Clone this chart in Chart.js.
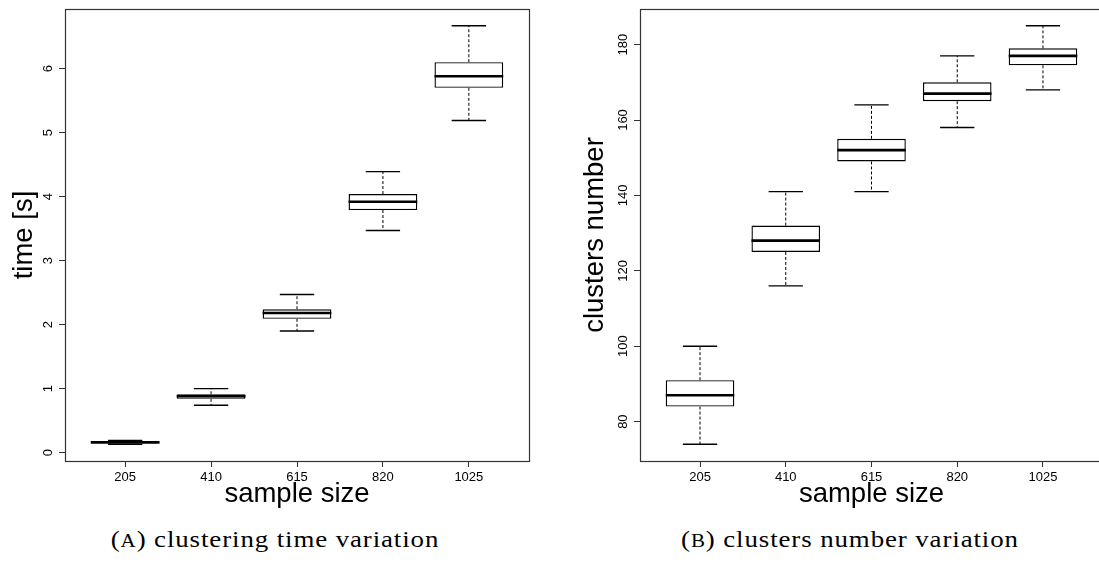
<!DOCTYPE html>
<html>
<head>
<meta charset="utf-8">
<script src="https://cdn.jsdelivr.net/npm/chart.js@4.4.0/dist/chart.umd.min.js"></script>
<style>
  html, body { margin: 0; padding: 0; background: #fff; overflow: hidden; }
  #wrap { position: relative; width: 1099px; height: 563px; overflow: hidden; }
  #chartA { position: absolute; left: 0; top: 0; }
  #chartB { position: absolute; left: 549px; top: 0; }
  .caption {
    position: absolute; top: 527px; line-height: 24px;
    font-family: "Liberation Serif", serif; font-size: 24px; letter-spacing: 0.8px;
    white-space: nowrap; transform: translateX(-50%) scaleX(1.12); color: #000;
  }
  .sc { font-size: 0.78em; }
</style>
</head>
<body>
<div id="wrap">
  <canvas id="chartA" width="549" height="520"></canvas>
  <canvas id="chartB" width="560" height="520"></canvas>
  <div class="caption" style="left:275px">(<span class="sc">A</span>) clustering time variation</div>
  <div class="caption" style="left:850px">(<span class="sc">B</span>) clusters number variation</div>
</div>
<script>
const sampleSizes = ["205", "410", "615", "820", "1025"];

// (A) clustering time [s]
const timeLower = [0.13, 0.74, 1.9, 3.47, 5.19];
const timeQ1 = [0.15, 0.84, 2.09, 3.79, 5.7];
const timeMedian = [0.16, 0.88, 2.18, 3.92, 5.88];
const timeQ3 = [0.17, 0.91, 2.24, 4.04, 6.1];
const timeUpper = [0.19, 1.0, 2.47, 4.39, 6.67];
const timeTicks = [0, 1, 2, 3, 4, 5, 6];

// (B) clusters number
const clustLower = [74, 116, 141, 158, 168];
const clustQ1 = [84, 125, 149, 165, 174.5];
const clustMedian = [87, 128, 152, 167, 177];
const clustQ3 = [91, 132, 155, 170, 179];
const clustUpper = [100, 141, 164, 177, 185];
const clustTicks = [80, 100, 120, 140, 160, 180];

const sansFont = "'Liberation Sans', Arial, sans-serif";

function makeBoxChart(canvasId, lower, q1, median, q3, upper, yTicks, yTitle, opts) {
  // R-style axis range: data range plus 4% on each side
  const lo = Math.min(...lower);
  const hi = Math.max(...upper);
  const ext = (hi - lo) * 0.04;

  const whiskers = {
    id: "whiskers",
    afterDatasetsDraw(chart) {
      const c = chart.ctx;
      const yScale = chart.scales.y;
      const bars = chart.getDatasetMeta(0).data;
      c.save();
      c.strokeStyle = "#000";
      bars.forEach((bar, i) => {
        const half = bar.width / 2;
        const cap = bar.width / 4;
        const yLow = yScale.getPixelForValue(lower[i]);
        const yQ1 = yScale.getPixelForValue(q1[i]);
        const yMed = yScale.getPixelForValue(median[i]);
        const yQ3 = yScale.getPixelForValue(q3[i]);
        const yUp = yScale.getPixelForValue(upper[i]);

        c.lineWidth = 1;
        c.setLineDash([3, 2]);
        c.beginPath();
        c.moveTo(bar.x, yQ3);
        c.lineTo(bar.x, yUp);
        c.moveTo(bar.x, yQ1);
        c.lineTo(bar.x, yLow);
        c.stroke();

        c.setLineDash([]);
        c.lineWidth = 1.4;
        c.beginPath();
        c.moveTo(bar.x - cap, yUp);
        c.lineTo(bar.x + cap, yUp);
        c.moveTo(bar.x - cap, yLow);
        c.lineTo(bar.x + cap, yLow);
        c.stroke();

        c.lineWidth = 2.6;
        c.beginPath();
        c.moveTo(bar.x - half, yMed);
        c.lineTo(bar.x + half, yMed);
        c.stroke();
      });
      // box around the plot region
      const a = chart.chartArea;
      c.lineWidth = 1.2;
      c.strokeStyle = "#333";
      c.strokeRect(a.left + 0.5, a.top + 0.5, a.right - a.left, a.bottom - a.top);
      c.restore();
    },
  };

  const ctx = document.getElementById(canvasId).getContext("2d");
  return new Chart(ctx, {
    type: "bar",
    data: {
      datasets: [
        {
          data: sampleSizes.map((s, i) => ({ x: i + 1, y: [q1[i], q3[i]] })),
          backgroundColor: "#fff",
          borderColor: "#000",
          borderWidth: 1.4,
          borderSkipped: false,
          barPercentage: 0.8,
          categoryPercentage: 1.0,
        },
      ],
    },
    options: {
      responsive: false,
      animation: false,
      devicePixelRatio: 1,
      layout: { padding: { top: 9, left: 0, right: opts.rightPad, bottom: 0 } },
      plugins: { legend: { display: false }, tooltip: { enabled: false } },
      scales: {
        x: {
          type: "linear",
          min: 0.3,
          max: 5.7,
          offset: false,
          afterBuildTicks: (scale) => {
            scale.ticks = sampleSizes.map((s, i) => ({ value: i + 1 }));
          },
          afterFit: (scale) => {
            scale.height = 59;
            scale.paddingLeft = 0;
            scale.paddingRight = 0;
          },
          ticks: {
            callback: (v) => sampleSizes[v - 1],
            autoSkip: false,
            maxRotation: 0,
            padding: 3,
            color: "#000",
            font: { family: sansFont, size: 13 },
          },
          grid: { drawOnChartArea: false, offset: false, tickLength: 6, color: "#333" },
          border: { color: "#333", width: 1 },
          title: {
            display: true,
            text: "sample size",
            color: "#000",
            padding: { top: 0, bottom: 9 },
            font: { family: sansFont, size: 27.5 },
          },
        },
        y: {
          min: lo - ext,
          max: hi + ext,
          afterBuildTicks: (scale) => {
            scale.ticks = yTicks.map((v) => ({ value: v }));
          },
          afterFit: (scale) => {
            scale.width = opts.axisWidth;
            scale.paddingTop = 0;
            scale.paddingBottom = 0;
          },
          ticks: {
            minRotation: 90,
            maxRotation: 90,
            crossAlign: "center",
            padding: opts.tickPad,
            color: "#000",
            font: { family: sansFont, size: 13 },
          },
          grid: { drawOnChartArea: false, tickLength: 6, color: "#333" },
          border: { color: "#333", width: 1 },
          title: {
            display: true,
            text: yTitle,
            color: "#000",
            padding: { top: opts.titlePad, bottom: 0 },
            font: { family: sansFont, size: 27.5 },
          },
        },
      },
    },
    plugins: [whiskers],
  });
}

makeBoxChart("chartA", timeLower, timeQ1, timeMedian, timeQ3, timeUpper, timeTicks, "time [s]",
  { axisWidth: 65, rightPad: 20, tickPad: 7.4, titlePad: 7.5 });

makeBoxChart("chartB", clustLower, clustQ1, clustMedian, clustQ3, clustUpper, clustTicks, "clusters number",
  { axisWidth: 91, rightPad: 6, tickPad: 0.2, titlePad: 29.5 });
</script>
</body>
</html>
